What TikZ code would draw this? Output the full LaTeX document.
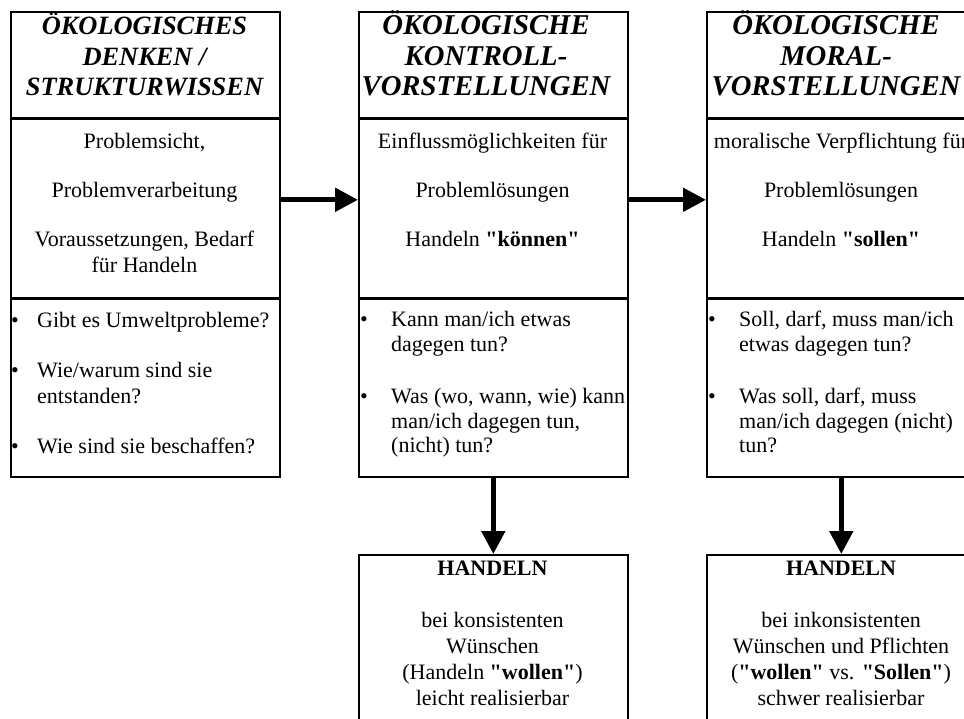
\documentclass[tikz,border=0pt]{standalone}
\usepackage{fontspec}
\setmainfont{Liberation Serif}[Ligatures=TeXOff]
\usetikzlibrary{arrows.meta}
\begin{document}
\begin{tikzpicture}[x=1pt,y=-1pt,
  box/.style={draw,line width=1.6pt,minimum width=269pt,inner sep=0pt,anchor=north west},
  divider/.style={line width=3pt},
  flow/.style={line width=5pt,-{Triangle[length=23pt,width=23pt]}},
  ttlA/.style={anchor=base,inner sep=0pt,font=\fontsize{26.4}{30}\selectfont\bfseries\itshape},
  ttlB/.style={anchor=base,inner sep=0pt,font=\fontsize{28.7}{30}\selectfont\bfseries\itshape},
  txt/.style={anchor=base,inner sep=0pt,font=\fontsize{22}{26}\selectfont},
  txtl/.style={anchor=base west,inner sep=0pt,font=\fontsize{22}{26}\selectfont},
  bul/.style={anchor=base,inner sep=0pt,font=\fontsize{22}{26}\selectfont}]
\clip (0,0) rectangle (964,718);
\fill[white] (0,0) rectangle (964,718);

% ---- boxes
\node[box,minimum height=106pt] (b1head) at (10,11) {};
\node[box,minimum height=180pt] (b1body) at (10,117) {};
\node[box,minimum height=179pt] (b1bul)  at (10,297) {};
\node[box,minimum height=106pt] (b2head) at (358,11) {};
\node[box,minimum height=180pt] (b2body) at (358,117) {};
\node[box,minimum height=179pt] (b2bul)  at (358,297) {};
\node[box,minimum height=106pt] (b3head) at (706,11) {};
\node[box,minimum height=180pt] (b3body) at (706,117) {};
\node[box,minimum height=179pt] (b3bul)  at (706,297) {};
\node[box,minimum height=200pt] (b2act)  at (358,554) {};
\node[box,minimum height=200pt] (b3act)  at (706,554) {};

\foreach \b in {b1head,b1body,b2head,b2body,b3head,b3body}
  \draw[divider] (\b.south west) -- (\b.south east);

% ---- connectors
\draw[flow] ([yshift=8pt]b1body.east) -- ([yshift=8pt]b2body.west);
\draw[flow] ([yshift=8pt]b2body.east) -- ([yshift=8pt]b3body.west);
\draw[flow] (b2bul.south) -- (b2act.north);
\draw[flow] (b3bul.south) -- (b3act.north);

% ---- titles
\node[ttlA] (t1a) at (144.5,34) {ÖKOLOGISCHES};
\node[ttlA] (t1b) at (144.5,65) {DENKEN /};
\node[ttlA] (t1c) at (144.5,95) {STRUKTURWISSEN};
\node[ttlB] (t2a) at (486,34) {ÖKOLOGISCHE};
\node[ttlB] (t2b) at (486,65) {KONTROLL-};
\node[ttlB] (t2c) at (486,95) {VORSTELLUNGEN};
\node[ttlB] (t3a) at (836,34) {ÖKOLOGISCHE};
\node[ttlB] (t3b) at (836,65) {MORAL-};
\node[ttlB] (t3c) at (836,95) {VORSTELLUNGEN};

% ---- body texts
\node[txt] (p1a) at (144.5,148) {Problemsicht,};
\node[txt] (p1b) at (144.5,197) {Problemverarbeitung};
\node[txt] (p1c) at (144.5,246) {Voraussetzungen, Bedarf};
\node[txt] (p1d) at (144.5,272) {für Handeln};
\node[txt] (p2a) at (492.5,148) {Einflussmöglichkeiten für};
\node[txt] (p2b) at (492.5,197) {Problemlösungen};
\node[txt] (p2c) at (492.5,246) {Handeln \textbf{"können"}};
\node[txt] (p3a) at (841,148) {moralische Verpflichtung für};
\node[txt] (p3b) at (841,197) {Problemlösungen};
\node[txt] (p3c) at (841,246) {Handeln \textbf{"sollen"}};

% ---- bullets box 1
\node[bul] (d1a) at (15,327) {•};
\node[txtl] (q1a) at (37,327) {Gibt es Umweltprobleme?};
\node[bul] (d1b) at (15,377) {•};
\node[txtl] (q1b) at (37,377) {Wie/warum sind sie};
\node[txtl] (q1c) at (37,403) {entstanden?};
\node[bul] (d1c) at (15,453) {•};
\node[txtl] (q1d) at (37,453) {Wie sind sie beschaffen?};

% ---- bullets box 2
\node[bul] (d2a) at (364,326) {•};
\node[txtl] (q2a) at (391,326) {Kann man/ich etwas};
\node[txtl] (q2b) at (391,351) {dagegen tun?};
\node[bul] (d2b) at (364,403) {•};
\node[txtl] (q2c) at (391,403) {Was (wo, wann, wie) kann};
\node[txtl] (q2d) at (391,428) {man/ich dagegen tun,};
\node[txtl] (q2e) at (391,452) {(nicht) tun?};

% ---- bullets box 3
\node[bul] (d3a) at (712,326) {•};
\node[txtl] (q3a) at (739,326) {Soll, darf, muss man/ich};
\node[txtl] (q3b) at (739,351) {etwas dagegen tun?};
\node[bul] (d3b) at (712,403) {•};
\node[txtl] (q3c) at (739,403) {Was soll, darf, muss};
\node[txtl] (q3d) at (739,428) {man/ich dagegen (nicht)};
\node[txtl] (q3e) at (739,452) {tun?};

% ---- action boxes
\node[txt,font=\fontsize{22}{26}\selectfont\bfseries] (h2) at (492.5,575) {HANDELN};
\node[txt] (h2a) at (492.5,627) {bei konsistenten};
\node[txt] (h2b) at (492.5,653) {Wünschen};
\node[txt] (h2c) at (492.5,679) {(Handeln \textbf{"wollen"})};
\node[txt] (h2d) at (492.5,705) {leicht realisierbar};
\node[txt,font=\fontsize{22}{26}\selectfont\bfseries] (h3) at (841,575) {HANDELN};
\node[txt] (h3a) at (841,627) {bei inkonsistenten};
\node[txt] (h3b) at (841,653) {Wünschen und Pflichten};
\node[txt] (h3c) at (841,679) {(\textbf{"wollen"} vs. \textbf{"Sollen"})};
\node[txt] (h3d) at (841,705) {schwer realisierbar};
\end{tikzpicture}
\end{document}
